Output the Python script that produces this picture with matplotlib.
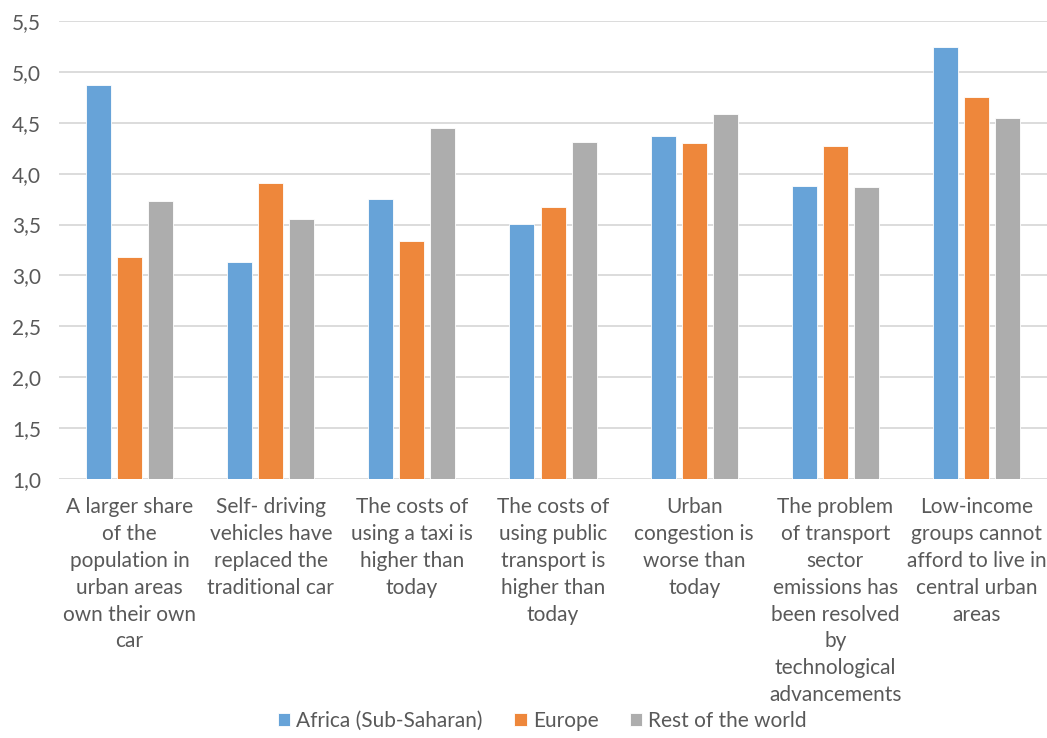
import numpy as np
import matplotlib.pyplot as plt
from matplotlib.ticker import FuncFormatter

categories = [
    "A larger share\nof the\npopulation in\nurban areas\nown their own\ncar",
    "Self- driving\nvehicles have\nreplaced the\ntraditional car",
    "The costs of\nusing a taxi is\nhigher than\ntoday",
    "The costs of\nusing public\ntransport is\nhigher than\ntoday",
    "Urban\ncongestion is\nworse than\ntoday",
    "The problem\nof transport\nsector\nemissions has\nbeen resolved\nby\ntechnological\nadvancements",
    "Low-income\ngroups cannot\nafford to live in\ncentral urban\nareas",
]
series_names = ["Africa (Sub-Saharan)", "Europe", "Rest of the world"]
africa = [4.87, 3.13, 3.75, 3.51, 4.37, 3.88, 5.24]
europe = [3.18, 3.91, 3.34, 3.67, 4.30, 4.27, 4.75]
rest = [3.73, 3.55, 4.45, 4.31, 4.59, 3.87, 4.55]
yticks = [1.0, 1.5, 2.0, 2.5, 3.0, 3.5, 4.0, 4.5, 5.0, 5.5]

colors = ["#67a3d8", "#ee873b", "#adadad"]
text_color = "#595959"

plt.rcParams['font.family'] = ['Lato', 'DejaVu Sans']

fig = plt.figure(figsize=(10.47, 7.38), dpi=100)
ax = fig.add_axes([0.0564, 0.351, 0.9436, 0.6205])

x = np.arange(len(categories))
width = 0.177
step = 0.22
for i, (vals, name) in enumerate(zip([africa, europe, rest], series_names)):
    ax.bar(x + (i - 1) * step, np.array(vals) - 1.0, width, bottom=1.0,
           color=colors[i], edgecolor='white', linewidth=0.6, label=name, zorder=3)

ax.set_xlim(-0.5, len(categories) - 0.5)
ax.set_ylim(1.0, 5.5)
ax.set_yticks(yticks)
ax.yaxis.set_major_formatter(FuncFormatter(lambda v, p: f"{v:.1f}".replace('.', ',')))
ax.set_xticks(x)
ax.set_xticklabels(categories, fontsize=15, color=text_color, linespacing=1.43, va='top')
ax.tick_params(axis='y', labelsize=15, labelcolor=text_color, length=0, pad=13)
ax.tick_params(axis='x', length=0, pad=13)
ax.grid(axis='y', color='#d9d9d9', linewidth=1.3, zorder=0)
for s in ax.spines.values():
    s.set_visible(False)

fig.legend(loc='lower center', bbox_to_anchor=(0.518, -0.016), ncol=3, frameon=False,
           fontsize=15, handlelength=0.6, handleheight=0.6, handletextpad=0.3,
           columnspacing=1.5, labelcolor=text_color)

fig.savefig('out.png', dpi=100)
